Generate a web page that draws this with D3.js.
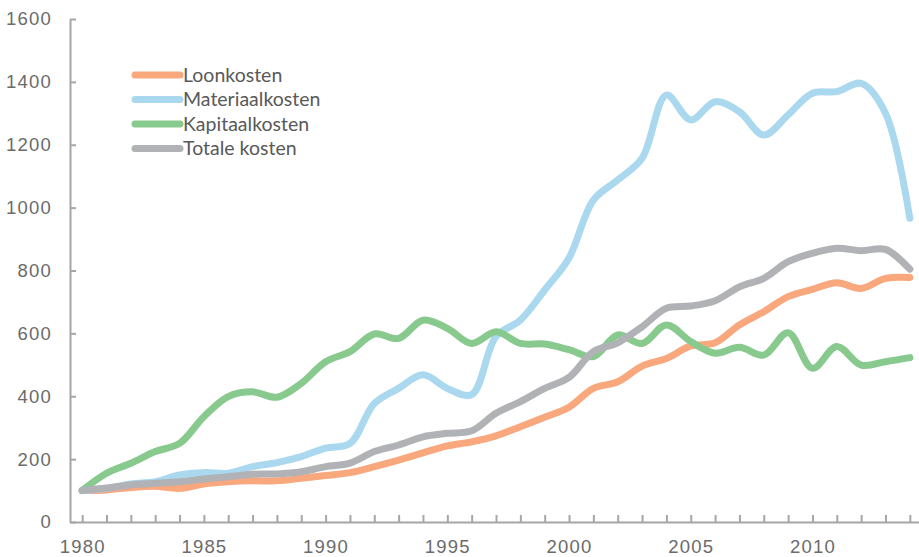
<!DOCTYPE html>
<html>
<head>
<meta charset="utf-8">
<script src="https://cdn.jsdelivr.net/npm/d3@7"></script>
<style>
    body { margin: 0; background: #fff; }
    svg { display: block; }
    .axis path, .axis line { stroke: #a6a6a6; stroke-width: 2px; }
</style>
</head>
<body>
<div id="vis"></div>
<script>
const YEARS = d3.range(1980, 2015)

const LOONKOSTEN = [
    100, 102, 110, 114, 107, 121, 128, 131, 131, 139,
    148, 157, 176, 197, 220, 242, 255, 274, 303, 333,
    365, 425, 446, 496, 520, 560, 570, 627, 669, 717,
    740, 761, 743, 775, 778
]

const MATERIAALKOSTEN = [
    100, 107, 121, 128, 150, 157, 155, 176, 189, 208,
    235, 250, 377, 425, 468, 425, 405, 590, 642, 738,
    840, 1024, 1088, 1157, 1358, 1279, 1337, 1305, 1231, 1295,
    1364, 1369, 1395, 1300, 966
]

const KAPITAALKOSTEN = [
    100, 155, 187, 224, 250, 335, 399, 414, 397, 441,
    510, 542, 598, 584, 642, 616, 568, 605, 568, 566,
    548, 526, 595, 568, 627, 574, 537, 556, 531, 602,
    489, 558, 499, 510, 523
]

const TOTALE_KOSTEN = [
    100, 108, 118, 123, 128, 137, 144, 152, 153, 160,
    176, 187, 224, 245, 271, 282, 290, 346, 383, 425,
    460, 542, 570, 621, 680, 687, 704, 748, 775, 828,
    855, 871, 863, 867, 804
]

const SERIES_NAMES = ['Loonkosten', 'Materiaalkosten', 'Kapitaalkosten', 'Totale kosten']
const SERIES_COLORS = ['#f9a77d', '#a9d8ef', '#88c98e', '#b1b2b5']
const Y_TICKS = [0, 200, 400, 600, 800, 1000, 1200, 1400, 1600]

function renderSvg() {
    return d3.select('#vis')
        .append('svg')
        .attr('width', 919)
        .attr('height', 557)
}

function styleTickText(g) {
    g.selectAll('text')
        .style('font-family', '"Liberation Sans", Arial, sans-serif')
        .style('font-size', '18.5px')
        .style('letter-spacing', '1.2px')
        .style('fill', '#6b6b6b')
}

function renderChart(svg) {
    let margin = {top: 19, left: 70, bottom: 35}
    let height = 557

    let x = d3.scaleLinear()
        .domain([1979.5, 2014.5])
        .range([margin.left, 922])

    let y = d3.scaleLinear()
        .domain([0, 1600])
        .range([height - margin.bottom, margin.top])

    let xAxis = d3.axisBottom(x)
        .tickValues(YEARS)
        .tickSize(-7)
        .tickSizeOuter(0)
        .tickPadding(18)
        .tickFormat(d => d % 5 === 0 ? String(d) : '')

    let yAxis = d3.axisLeft(y)
        .tickValues(Y_TICKS)
        .tickSize(-6)
        .tickSizeOuter(0)
        .tickPadding(18)
        .tickFormat(d3.format('d'))

    svg.append('g')
        .attr('class', 'axis')
        .attr('transform', `translate(0, ${y(0)})`)
        .call(xAxis)
        .call(styleTickText)

    svg.append('g')
        .attr('class', 'axis')
        .attr('transform', `translate(${margin.left}, 0)`)
        .call(yAxis)
        .call(styleTickText)

    let series = [LOONKOSTEN, MATERIAALKOSTEN, KAPITAALKOSTEN, TOTALE_KOSTEN]

    let line = d3.line()
        .x((d, i) => x(YEARS[i]))
        .y(d => y(d))
        .curve(d3.curveCatmullRom.alpha(0.5))

    svg.append('g')
        .selectAll('path')
        .data(series)
        .enter().append('path')
        .attr('d', line)
        .attr('fill', 'none')
        .attr('stroke', (d, i) => SERIES_COLORS[i])
        .attr('stroke-width', 7)
        .attr('stroke-linecap', 'round')
        .attr('stroke-linejoin', 'round')

    // legend
    let legend = svg.append('g')
        .selectAll('g')
        .data(SERIES_NAMES)
        .enter().append('g')
        .attr('transform', (d, i) => `translate(135, ${75 + i * 24.5})`)

    legend.append('line')
        .attr('x1', 0)
        .attr('x2', 45)
        .attr('stroke', (d, i) => SERIES_COLORS[i])
        .attr('stroke-width', 7)
        .attr('stroke-linecap', 'round')

    legend.append('text')
        .attr('x', 48)
        .attr('dy', '0.35em')
        .style('font-family', 'Lato, "Open Sans", sans-serif')
        .style('font-size', '19.5px')
        .style('fill', '#595959')
        .text(d => d)
}

let svg = renderSvg()
renderChart(svg)
</script>
</body>
</html>
